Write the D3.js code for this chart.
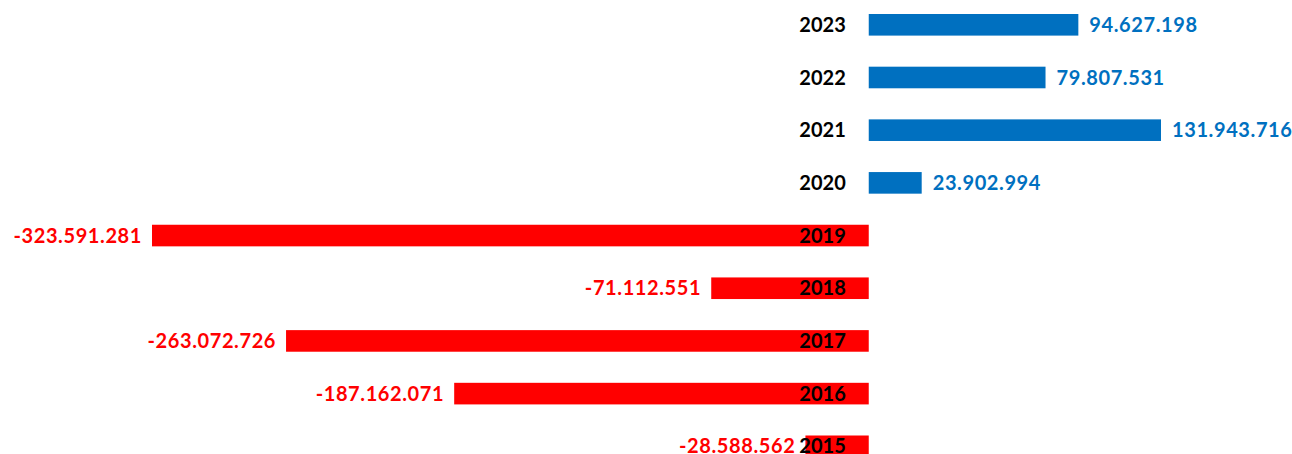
<!DOCTYPE html>
<html>
<head>
<meta charset="utf-8">
<script src="https://cdn.jsdelivr.net/npm/d3@7"></script>
<style>
  body { margin: 0; background: #fff; overflow: hidden; }
  text { font-family: Lato, "Open Sans", sans-serif; font-weight: 700; font-size: 20px; }
  text.val { letter-spacing: 0.6px; }
</style>
</head>
<body>
<svg id="chart" width="1292" height="454"></svg>
<script>
var years = ["2023", "2022", "2021", "2020", "2019", "2018", "2017", "2016", "2015"];
var values = [94627198, 79807531, 131943716, 23902994, -323591281, -71112551, -263072726, -187162071, -28588562];

var blue = "#0070C0", red = "#FF0000";

var svg = d3.select("#chart");
var width = +svg.attr("width");
var height = +svg.attr("height");

var rows = years.map(function(y, i){ return {year: y, value: values[i]}; });

var x = d3.scaleLinear()
    .domain([d3.min(values), d3.max(values)])
    .range([152, 1161]);

var y = d3.scaleBand()
    .domain(years)
    .range([14, 457.1])
    .paddingInner(0.59)
    .paddingOuter(0);

var loc = d3.formatLocale({decimal: ",", thousands: ".", grouping: [3], currency: ["", ""], minus: "-"});
var fmt = loc.format(",d");

var g = svg.append("g");

g.selectAll("rect.bar").data(rows).enter().append("rect")
  .attr("class", "bar")
  .attr("x", function(d){ return x(Math.min(0, d.value)); })
  .attr("y", function(d){ return y(d.year); })
  .attr("width", function(d){ return Math.abs(x(d.value) - x(0)); })
  .attr("height", y.bandwidth())
  .attr("fill", function(d){ return d.value < 0 ? red : blue; });

// value labels
g.selectAll("text.val").data(rows).enter().append("text")
  .attr("class", "val")
  .attr("x", function(d){ return d.value < 0 ? x(d.value) - 10 : x(d.value) + 11; })
  .attr("y", function(d){ return y(d.year) + y.bandwidth()/2; })
  .attr("dy", "0.36em")
  .attr("text-anchor", function(d){ return d.value < 0 ? "end" : "start"; })
  .attr("fill", function(d){ return d.value < 0 ? red : blue; })
  .text(function(d){ return fmt(d.value); });

// year labels, just left of zero
g.selectAll("text.yr").data(rows).enter().append("text")
  .attr("class", "yr")
  .attr("x", x(0) - 23)
  .attr("y", function(d){ return y(d.year) + y.bandwidth()/2; })
  .attr("dy", "0.36em")
  .attr("text-anchor", "end")
  .attr("fill", "#000")
  .text(function(d){ return d.year; });
</script>
</body>
</html>
